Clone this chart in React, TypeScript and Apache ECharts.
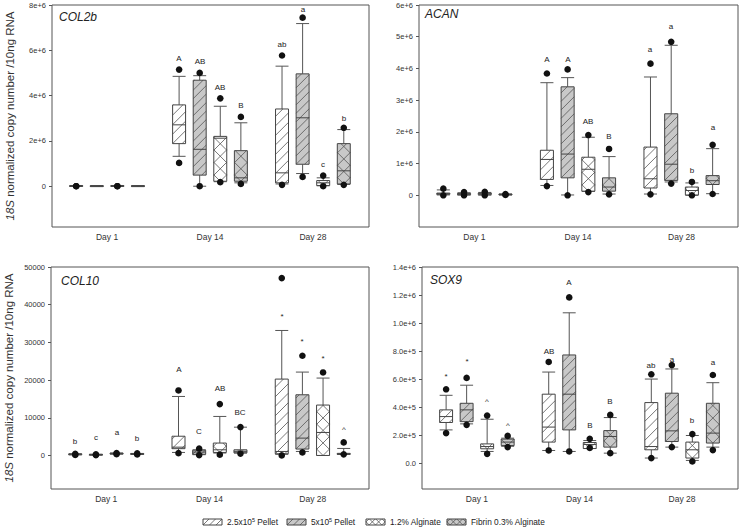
import React, { useEffect, useRef } from 'react';
import * as echarts from 'echarts';

const FONT = '"Liberation Sans", Arial, Helvetica, sans-serif';

const days = ['Day 1', 'Day 14', 'Day 28'];

// Each row (one per day): [lowDot, lowWhisker, q1, median, q3, highWhisker, highDot]
const col2bPellet25 = [
  [0, 0, 0, 0.01e6, 0.02e6, 0.02e6, 0],
  [1.03e6, 1.32e6, 1.88e6, 2.71e6, 3.59e6, 4.85e6, 5.15e6],
  [0.06e6, 0.1e6, 0.15e6, 0.59e6, 3.41e6, 5.3e6, 5.77e6],
];
const col2bPellet5 = [
  [null, 0, 0, 0.005e6, 0.01e6, 0.01e6, null],
  [0, 0, 0.49e6, 1.63e6, 4.68e6, 4.88e6, 5.0e6],
  [0.41e6, 0.56e6, 0.97e6, 3.02e6, 4.96e6, 7.18e6, 7.44e6],
];
const col2bAlginate = [
  [0, 0, 0, 0.01e6, 0.02e6, 0.02e6, 0],
  [0.18e6, 0.2e6, 0.22e6, 2.12e6, 2.2e6, 3.53e6, 3.88e6],
  [0, 0.02e6, 0.03e6, 0.15e6, 0.25e6, 0.37e6, 0.47e6],
];
const col2bFibrin = [
  [null, 0, 0, 0.005e6, 0.01e6, 0.01e6, null],
  [0.1e6, 0.15e6, 0.22e6, 0.37e6, 1.57e6, 2.8e6, 3.06e6],
  [0.06e6, 0.08e6, 0.1e6, 0.68e6, 1.88e6, 2.5e6, 2.58e6],
];
const col2bLetters = [['', '', '', ''], ['A', 'AB', 'AB', 'B'], ['ab', 'a', 'c', 'b']];
const col2bLetterY = [[0, 0, 0, 0], [5.66e6, 5.55e6, 4.39e6, 3.59e6], [6.28e6, 7.83e6, 1.0e6, 3.02e6]];
const col2bTicks = ['0', '2e+6', '4e+6', '6e+6', '8e+6'];

const acanPellet25 = [
  [0, 0.01e6, 0.03e6, 0.05e6, 0.07e6, 0.17e6, 0.21e6],
  [0.29e6, 0.31e6, 0.5e6, 1.13e6, 1.42e6, 3.55e6, 3.84e6],
  [0.03e6, 0.04e6, 0.23e6, 0.52e6, 1.52e6, 3.73e6, 4.15e6],
];
const acanPellet5 = [
  [0, 0.005e6, 0.02e6, 0.04e6, 0.06e6, 0.08e6, 0.1e6],
  [0, 0.01e6, 0.55e6, 1.3e6, 3.42e6, 3.71e6, 3.97e6],
  [0.37e6, 0.42e6, 0.47e6, 0.98e6, 2.57e6, 4.73e6, 4.84e6],
];
const acanAlginate = [
  [0, 0.005e6, 0.02e6, 0.05e6, 0.07e6, 0.09e6, 0.11e6],
  [0.1e6, 0.12e6, 0.13e6, 0.82e6, 1.2e6, 1.83e6, 1.9e6],
  [0, 0, 0.01e6, 0.15e6, 0.26e6, 0.39e6, 0.42e6],
];
const acanFibrin = [
  [0.01e6, 0.015e6, 0.02e6, 0.025e6, 0.03e6, 0.035e6, 0.04e6],
  [0.03e6, 0.04e6, 0.13e6, 0.26e6, 0.55e6, 1.22e6, 1.46e6],
  [0.04e6, 0.05e6, 0.34e6, 0.46e6, 0.62e6, 1.47e6, 1.59e6],
];
const acanLetters = [['', '', '', ''], ['A', 'A', 'AB', 'B'], ['a', 'a', 'b', 'a']];
const acanLetterY = [[0, 0, 0, 0], [4.31e6, 4.31e6, 2.33e6, 1.88e6], [4.62e6, 5.33e6, 0.8e6, 2.14e6]];
const acanTicks = ['0', '1e+6', '2e+6', '3e+6', '4e+6', '5e+6', '6e+6'];

const col10Pellet25 = [
  [150, 200, 250, 300, 350, 400, 450],
  [600, 800, 1800, 2200, 5100, 15650, 17240],
  [0, 300, 450, 1060, 20260, 33160, 47060],
];
const col10Pellet5 = [
  [100, 150, 180, 200, 220, 250, 300],
  [100, 200, 300, 900, 1400, 1500, 1800],
  [800, 1060, 1700, 4600, 16100, 22120, 26450],
];
const col10Alginate = [
  [350, 400, 450, 500, 550, 600, 650],
  [200, 640, 800, 1500, 3290, 10350, 13630],
  [null, 0, 0, 6100, 13370, 20530, 22020],
];
const col10Fibrin = [
  [250, 300, 350, 400, 450, 500, 550],
  [500, 640, 700, 1000, 1500, 7500, 7530],
  [300, 300, 350, 400, 500, 1860, 3450],
];
const col10Letters = [['b', 'c', 'a', 'b'], ['A', 'C', 'AB', 'BC'], ['*', '*', '*', '^']];
const col10LetterY = [[3710, 4880, 6200, 4620], [22920, 6370, 17880, 11400], [37500, 30880, 26260, 7530]];
const col10Ticks = ['0', '10000', '20000', '30000', '40000', '50000'];

const sox9Pellet25 = [
  [2.14e5, 2.37e5, 2.9e5, 3.32e5, 3.8e5, 4.84e5, 5.27e5],
  [0.9e5, 0.9e5, 1.5e5, 2.57e5, 4.92e5, 6.5e5, 7.22e5],
  [0.36e5, 0.36e5, 0.95e5, 1.18e5, 4.32e5, 6.0e5, 6.34e5],
];
const sox9Pellet5 = [
  [2.73e5, 2.8e5, 2.96e5, 3.8e5, 4.27e5, 5.56e5, 6.08e5],
  [0.83e5, 0.83e5, 2.37e5, 4.92e5, 7.72e5, 10.73e5, 11.83e5],
  [1.14e5, 1.14e5, 1.54e5, 2.3e5, 4.99e5, 6.72e5, 7.0e5],
];
const sox9Alginate = [
  [0.66e5, 0.83e5, 1.02e5, 1.18e5, 1.37e5, 3.13e5, 3.39e5],
  [1.08e5, 1.04e5, 1.04e5, 1.33e5, 1.47e5, 1.61e5, 1.73e5],
  [0.12e5, 0.19e5, 0.36e5, 0.95e5, 1.5e5, 1.97e5, 2.07e5],
];
const sox9Fibrin = [
  [1.14e5, 1.2e5, 1.25e5, 1.5e5, 1.71e5, 1.78e5, 1.94e5],
  [0.71e5, 0.71e5, 1.14e5, 1.9e5, 2.32e5, 3.25e5, 3.44e5],
  [0.93e5, 1.14e5, 1.43e5, 2.14e5, 4.27e5, 5.74e5, 6.29e5],
];
const sox9Letters = [['*', '*', '^', '^'], ['AB', 'A', 'B', 'B'], ['ab', 'a', 'b', 'a']];
const sox9LetterY = [[6.36e5, 7.41e5, 4.51e5, 2.85e5], [8.02e5, 12.9e5, 2.73e5, 4.46e5], [7.0e5, 7.41e5, 3.09e5, 7.24e5]];
const sox9Ticks = ['0.0', '2.0e+5', '4.0e+5', '6.0e+5', '8.0e+5', '1.0e+6', '1.2e+6', '1.4e+6'];

const legendLabels = ['2.5x10{sup|5} Pellet', '5x10{sup|5} Pellet', '1.2% Alginate', 'Fibrin 0.3% Alginate'];

// Visual styles per group (not data)
const GRAY = '#c8c8c8';
const INK = '#222222';
const groupStyle = [
  { fill: '#ffffff', kind: 'diag', s: 9.5 },
  { fill: GRAY, kind: 'diag', s: 8.5 },
  { fill: '#ffffff', kind: 'cross', s: 12.5 },
  { fill: GRAY, kind: 'cross', s: 12.5 },
];

const panels = [
  { title: 'COL2b', groups: [col2bPellet25, col2bPellet5, col2bAlginate, col2bFibrin], letters: col2bLetters, letterY: col2bLetterY,
    yMin: -1.8e6, yMax: 8e6, split: 5, step: 2e6, ticks: col2bTicks, grid: { left: 52, top: 5, width: 317, height: 222 }, tx: 59, ty: 19, yName: true },
  { title: 'ACAN', groups: [acanPellet25, acanPellet5, acanAlginate, acanFibrin], letters: acanLetters, letterY: acanLetterY,
    yMin: -1e6, yMax: 6e6, split: 7, step: 1e6, ticks: acanTicks, grid: { left: 419, top: 5, width: 320, height: 222 }, tx: 425, ty: 16, yName: false },
  { title: 'COL10', groups: [col10Pellet25, col10Pellet5, col10Alginate, col10Fibrin], letters: col10Letters, letterY: col10LetterY,
    yMin: -8900, yMax: 50000, split: 5, step: 10000, ticks: col10Ticks, grid: { left: 51, top: 267, width: 318, height: 222 }, tx: 61, ty: 283, yName: true },
  { title: 'SOX9', groups: [sox9Pellet25, sox9Pellet5, sox9Alginate, sox9Fibrin], letters: sox9Letters, letterY: sox9LetterY,
    yMin: -1.85e5, yMax: 1.4e6, split: 8, step: 2e5, ticks: sox9Ticks, grid: { left: 422, top: 267, width: 317, height: 222 }, tx: 430, ty: 282, yName: false },
];

function hatchSegs(x0: number, y0: number, x1: number, y1: number, s: number, dir: string, ax: number, ay: number) {
  const segs: number[][] = [];
  if (x1 - x0 < 0.5 || y1 - y0 < 0.5) return segs;
  if (dir === '/') {
    const base = ax + ay;
    const cMin = x0 + y0, cMax = x1 + y1;
    const k = Math.ceil((cMin - base) / s);
    for (let c = base + k * s; c <= cMax; c += s) {
      const xa = Math.max(x0, c - y1), xb = Math.min(x1, c - y0);
      if (xb - xa > 0.3) segs.push([xa, c - xa, xb, c - xb]);
    }
  } else {
    const base = ay - ax;
    const dMin = y0 - x1, dMax = y1 - x0;
    const k = Math.ceil((dMin - base) / s);
    for (let d = base + k * s; d <= dMax; d += s) {
      const xa = Math.max(x0, y0 - d), xb = Math.min(x1, y1 - d);
      if (xb - xa > 0.3) segs.push([xa, xa + d, xb, xb + d]);
    }
  }
  return segs;
}

function boxShapes(x0: number, y0: number, w: number, h: number, g: number, s: number, cx: number) {
  const st = groupStyle[g];
  const out: any[] = [];
  out.push({ type: 'rect', shape: { x: x0, y: y0, width: w, height: h }, style: { fill: st.fill, stroke: 'none' } });
  let segs: number[][] = [];
  if (st.kind === 'diag') {
    segs = hatchSegs(x0, y0, x0 + w, y0 + h, s, '/', x0, y0 + h);
  } else {
    segs = hatchSegs(x0, y0, x0 + w, y0 + h, s, '/', cx, y0 + h).concat(hatchSegs(x0, y0, x0 + w, y0 + h, s, '\\', cx, y0 + h));
  }
  segs.forEach((q) => out.push({ type: 'line', shape: { x1: q[0], y1: q[1], x2: q[2], y2: q[3] }, style: { stroke: '#555', lineWidth: 0.8 } }));
  out.push({ type: 'rect', shape: { x: x0, y: y0, width: w, height: h }, style: { fill: 'none', stroke: '#444', lineWidth: 1 } });
  return out;
}

function makeRender(stats: any[], letters: string[][], letterY: number[][], g: number) {
  return (params: any, api: any) => {
    const i = params.dataIndex;
    const s = stats[i];
    const unit = api.size([1, 0])[0];
    const spacing = unit * 0.2;
    const bw = unit * 0.126;
    const cx = api.coord([i + 1, 0])[0] + (g - 1.5) * spacing;
    const Y = (v: number) => api.coord([i + 1, v])[1];
    const [ld, lc, q1, md, q3, hc, hd] = s;
    const x0 = cx - bw / 2, x1 = cx + bw / 2;
    let yTop = Y(q3), yBot = Y(q1);
    if (yBot - yTop < 1) { const m = (yBot + yTop) / 2; yTop = m - 0.5; yBot = m + 0.5; }
    const wk = { stroke: '#555', lineWidth: 1 };
    const children: any[] = [];
    children.push({ type: 'line', shape: { x1: cx, y1: Y(hc), x2: cx, y2: yTop }, style: wk });
    children.push({ type: 'line', shape: { x1: cx, y1: yBot, x2: cx, y2: Y(lc) }, style: wk });
    children.push({ type: 'line', shape: { x1: x0, y1: Y(hc), x2: x1, y2: Y(hc) }, style: wk });
    children.push({ type: 'line', shape: { x1: x0, y1: Y(lc), x2: x1, y2: Y(lc) }, style: wk });
    boxShapes(x0, yTop, bw, yBot - yTop, g, groupStyle[g].s, cx).forEach((c) => children.push(c));
    children.push({ type: 'line', shape: { x1: x0, y1: Y(md), x2: x1, y2: Y(md) }, style: { stroke: '#444', lineWidth: 1 } });
    if (ld !== null) children.push({ type: 'circle', shape: { cx, cy: Y(ld), r: 3.3 }, style: { fill: '#111' } });
    if (hd !== null) children.push({ type: 'circle', shape: { cx, cy: Y(hd), r: 3.3 }, style: { fill: '#111' } });
    const t = letters[i][g];
    if (t) {
      const off = t === '*' || t === '^' ? 1.5 : 0;
      children.push({ type: 'text', style: { text: t, x: Math.round(cx), y: Math.round(Y(letterY[i][g]) + off), align: 'center', verticalAlign: 'middle', fontSize: 8, fontFamily: FONT, fill: INK, textFill: INK } });
    }
    return { type: 'group', children };
  };
}

function tickFormatter(step: number, labels: string[]) {
  return (v: number) => {
    const k = Math.round(v / step);
    if (Math.abs(v - k * step) > step * 1e-6 || k < 0 || k >= labels.length) return '';
    return labels[k];
  };
}

function buildLegend() {
  const items: any[] = [];
  const iconX = [203, 287, 366, 447];
  const textX = [227, 311, 390, 471];
  const cy = 522;
  const w = 19, h = 6;
  iconX.forEach((x, g) => {
    const st = groupStyle[g];
    const y0 = cy - h / 2;
    items.push({ type: 'rect', shape: { x, y: y0, width: w, height: h }, style: { fill: st.fill, stroke: 'none' } });
    let segs: number[][];
    if (st.kind === 'diag') segs = hatchSegs(x, y0, x + w, y0 + h, 6.5, '/', x, y0 + h);
    else segs = hatchSegs(x, y0, x + w, y0 + h, 6.3, '/', x + w / 2, y0 + h).concat(hatchSegs(x, y0, x + w, y0 + h, 6.3, '\\', x + w / 2, y0 + h));
    segs.forEach((q) => items.push({ type: 'line', shape: { x1: q[0], y1: q[1], x2: q[2], y2: q[3] }, style: { stroke: '#555', lineWidth: 0.8 } }));
    items.push({ type: 'rect', shape: { x, y: y0, width: w, height: h }, style: { fill: 'none', stroke: '#444', lineWidth: 1 } });
    items.push({ type: 'text', x: textX[g], y: cy, style: { text: legendLabels[g], fontSize: 8.3, fontFamily: FONT, fill: INK, verticalAlign: 'middle', align: 'left',
      rich: { sup: { fontSize: 5.5, fontFamily: FONT, fill: INK, verticalAlign: 'top', padding: [0, 0, 4, 0] } } } });
  });
  return items;
}

export default function App() {
  const ref = useRef<HTMLDivElement>(null);
  useEffect(() => {
    if (!ref.current) return;
    const chart = echarts.init(ref.current, undefined, { renderer: 'svg' });
    const series: any[] = [];
    panels.forEach((p, pi) => {
      p.groups.forEach((stats, g) => {
        series.push({
          type: 'custom',
          xAxisIndex: pi,
          yAxisIndex: pi,
          color: INK,
          itemStyle: { color: INK },
          renderItem: makeRender(stats, p.letters, p.letterY, g),
          data: stats.map((s: any[], di: number) => [di + 1, s[3]]),
          silent: true,
          clip: false,
        });
      });
    });
    const graphic: any[] = panels.map((p) => ({
      type: 'text', left: p.tx, top: p.ty - 8,
      style: { text: p.title, fontSize: 12, fontStyle: 'italic', fontFamily: FONT, fill: INK },
    }));
    buildLegend().forEach((e) => graphic.push(e));
    const option: any = {
      animation: false,
      backgroundColor: '#ffffff',
      color: [INK],
      grid: panels.map((p) => ({ ...p.grid, show: true, borderColor: '#555', borderWidth: 1, backgroundColor: 'transparent' })),
      xAxis: panels.map((p, pi) => ({
        type: 'value', gridIndex: pi, min: 0.465, max: 3.545, splitNumber: 3,
        axisLine: { show: false }, axisTick: { show: false }, splitLine: { show: false },
        axisLabel: {
          fontSize: 8.5, color: '#333', fontFamily: FONT, margin: 5,
          formatter: (v: number) => {
            const k = Math.round(v);
            return Math.abs(v - k) < 1e-6 && k >= 1 && k <= 3 ? days[k - 1] : '';
          },
        },
      })),
      yAxis: panels.map((p, pi) => ({
        type: 'value', gridIndex: pi, min: p.yMin, max: p.yMax, splitNumber: p.split,
        ...(pi === 1 ? { interval: p.step } : {}),
        axisLine: { show: false },
        axisTick: { show: true, length: 3, lineStyle: { color: '#555' } },
        splitLine: { show: false },
        axisLabel: { fontSize: 7.5, color: '#333', fontFamily: FONT, margin: 6, showMinLabel: false, formatter: tickFormatter(p.step, p.ticks) },
        name: p.yName ? '{i|18S} normalized copy number /10ng RNA' : '',
        nameLocation: 'middle',
        nameGap: 36,
        nameTextStyle: { fontSize: 11.5, color: '#333', fontFamily: FONT, rich: { i: { fontStyle: 'italic', fontSize: 11.5, fontFamily: FONT, color: '#333' } } },
      })),
      series,
      graphic,
    };
    chart.setOption(option);
    return () => chart.dispose();
  }, []);
  return <div ref={ref} style={{ position: 'absolute', left: 0, top: 0, width: 741, height: 531 }} />;
}
